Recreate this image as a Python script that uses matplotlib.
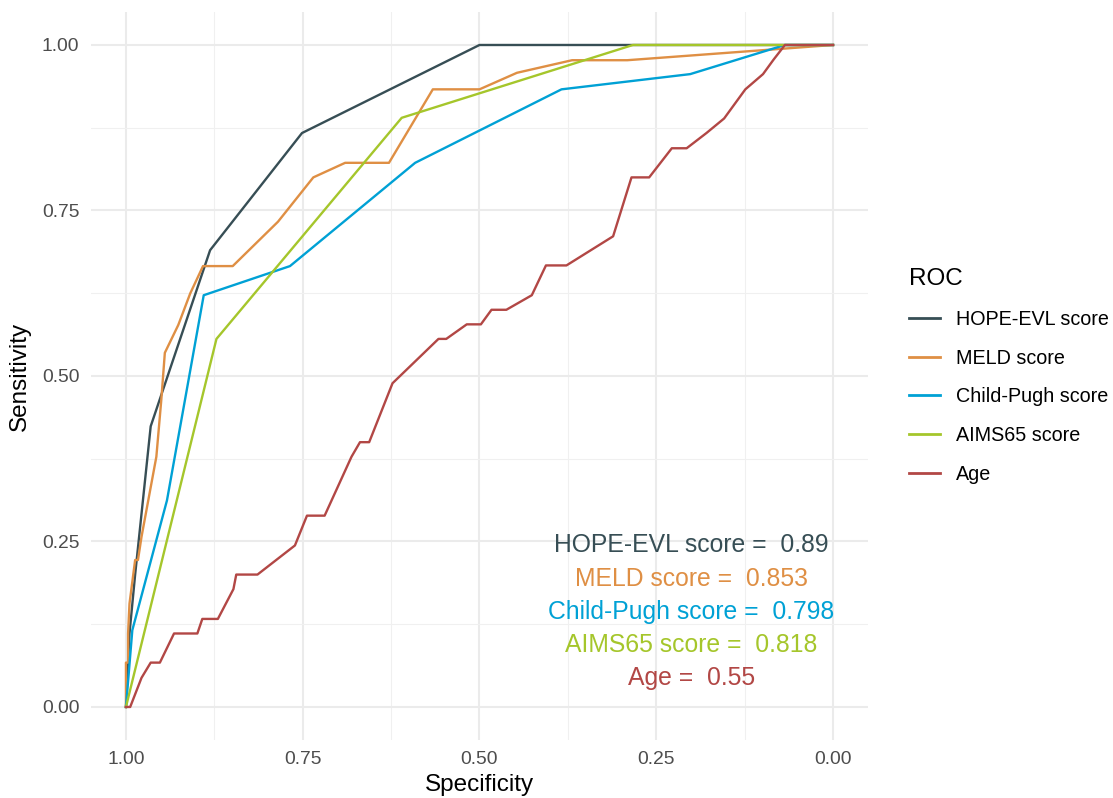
import matplotlib
matplotlib.use("Agg")
from matplotlib import pyplot as plt
from matplotlib.ticker import MultipleLocator

plt.rcParams["font.family"] = ["Liberation Sans", "DejaVu Sans"]

# ROC curves (specificity, sensitivity)
hope_spec = [1.0, 0.995, 0.987, 0.965, 0.881, 0.751, 0.5, 0.0]
hope_sens = [0.0, 0.111, 0.2, 0.424, 0.69, 0.867, 1.0, 1.0]

meld_spec = [1.0, 1.0, 0.997, 0.997, 0.995, 0.987, 0.983, 0.978, 0.957,
             0.95, 0.945, 0.926, 0.909, 0.891, 0.849, 0.785, 0.735,
             0.69, 0.628, 0.566, 0.5, 0.447, 0.369, 0.291, 0.0]
meld_sens = [0.0, 0.067, 0.067, 0.111, 0.156, 0.222, 0.222, 0.257, 0.378,
             0.464, 0.535, 0.577, 0.625, 0.666, 0.666, 0.733, 0.8,
             0.822, 0.822, 0.933, 0.933, 0.958, 0.977, 0.977, 1.0]

child_spec = [1.0, 0.991, 0.942, 0.89, 0.768, 0.591, 0.384, 0.202, 0.068, 0.0]
child_sens = [0.0, 0.116, 0.312, 0.622, 0.666, 0.822, 0.933, 0.956, 1.0, 1.0]

aims_spec = [1.0, 0.872, 0.61, 0.283, 0.0]
aims_sens = [0.0, 0.556, 0.89, 1.0, 1.0]

age_spec = [1.0, 0.994, 0.978, 0.965, 0.952, 0.932, 0.899, 0.892, 0.87, 0.848,
            0.844, 0.814, 0.761, 0.744, 0.719, 0.681, 0.669, 0.656, 0.623,
            0.558, 0.547, 0.518, 0.498, 0.483, 0.462, 0.426, 0.406, 0.377,
            0.311, 0.285, 0.26, 0.228, 0.207, 0.179, 0.154, 0.124, 0.099,
            0.084, 0.068, 0.0]
age_sens = [0.0, 0.0, 0.044, 0.067, 0.067, 0.111, 0.111, 0.133, 0.133, 0.178,
            0.2, 0.2, 0.244, 0.289, 0.289, 0.378, 0.4, 0.4, 0.489,
            0.556, 0.556, 0.578, 0.578, 0.6, 0.6, 0.622, 0.667, 0.667,
            0.711, 0.8, 0.8, 0.844, 0.844, 0.867, 0.889, 0.933, 0.956,
            0.978, 1.0, 1.0]

names = ["HOPE-EVL score", "MELD score", "Child-Pugh score", "AIMS65 score", "Age"]
aucs = ["0.89", "0.853", "0.798", "0.818", "0.55"]
colors = ["#374E55", "#DF8F44", "#00A1D5", "#A5C62B", "#B24745"]
curves = [(hope_spec, hope_sens), (meld_spec, meld_sens),
          (child_spec, child_sens), (aims_spec, aims_sens),
          (age_spec, age_sens)]
label_y = [0.25, 0.2, 0.15, 0.1, 0.05]

fig = plt.figure(figsize=(11.13, 7.98), dpi=100)
ax = fig.add_axes([0.0814, 0.0726, 0.6988, 0.9125])

for (sx, sy), name, col in zip(curves, names, colors):
    ax.plot(sx, sy, color=col, lw=1.7, label=name)

for name, auc, col, yy in zip(names, aucs, colors, label_y):
    ax.text(0.2, yy - 0.006, f"{name} =  {auc}", color=col, fontsize=17.8,
            ha="center", va="center")

ax.set_xlim(1.05, -0.05)
ax.set_ylim(-0.05, 1.05)
ax.xaxis.set_major_locator(MultipleLocator(0.25))
ax.yaxis.set_major_locator(MultipleLocator(0.25))
ax.xaxis.set_minor_locator(MultipleLocator(0.125))
ax.yaxis.set_minor_locator(MultipleLocator(0.125))
ax.xaxis.set_major_formatter(lambda v, p: f"{v:.2f}")
ax.yaxis.set_major_formatter(lambda v, p: f"{v:.2f}")
ax.grid(which="major", color="#EBEBEB", lw=1.5)
ax.grid(which="minor", color="#F0F0F0", lw=0.8)
ax.set_axisbelow(True)
for s in ax.spines.values():
    s.set_visible(False)
ax.tick_params(which="both", length=0, labelsize=13.9, labelcolor="#4D4D4D",
               pad=8)
ax.set_xlabel("Specificity", fontsize=17.5, labelpad=4)
ax.set_ylabel("Sensitivity", fontsize=17.5, labelpad=8)

leg = ax.legend(title="ROC", loc="center left", bbox_to_anchor=(1.029, 0.5),
                frameon=False, fontsize=14.2, title_fontsize=17.5,
                handlelength=1.6, labelspacing=1.0, handletextpad=0.8)
leg._legend_box.align = "left"
for ln in leg.get_lines():
    ln.set_linewidth(2.0)

fig.savefig("out.png", dpi=100)
